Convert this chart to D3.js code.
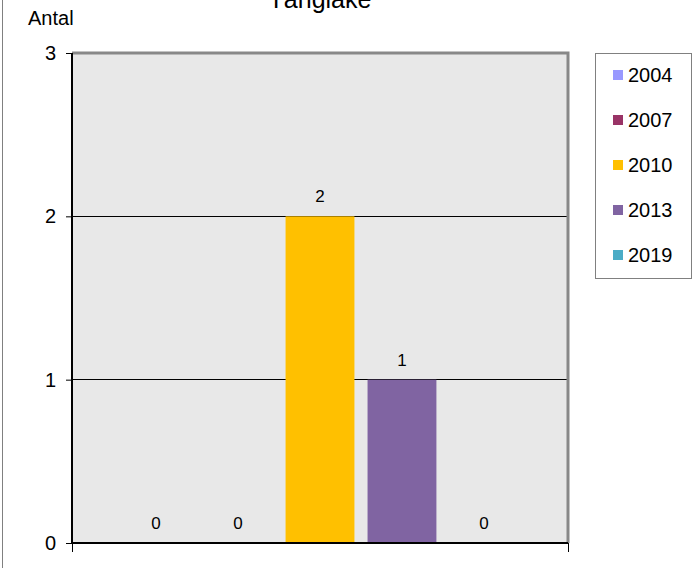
<!DOCTYPE html>
<html><head><meta charset="utf-8">
<script src="https://cdn.jsdelivr.net/npm/d3@7"></script>
<style>
body{margin:0;background:#fff;}
svg{display:block;font-family:"Liberation Sans",Arial,sans-serif;}
</style></head>
<body><svg id="c" width="697" height="568"></svg>
<script>
const title = "Tånglake";
const yLabel = "Antal";
const categories = [""];
const seriesNames = ["2004","2007","2010","2013","2019"];
const seriesValues = [0,0,2,1,0];
const seriesColors = ["#9999FF","#993366","#FFC000","#8064A2","#4BACC6"];
const yTicks = [0,1,2,3];

const svg = d3.select("#c");
const L=72,R=568,T=53,B=543;

// outer chart border
svg.append("rect").attr("x",2.5).attr("y",-10).attr("width",720).attr("height",600)
  .attr("fill","none").attr("stroke","#808080").attr("stroke-width",1);

const y = d3.scaleLinear().domain([0,3]).range([B,T]);
const x0 = d3.scaleBand().domain(categories).range([L,R]);
const x1 = d3.scaleBand().domain(seriesNames).range([0,x0.bandwidth()])
  .paddingInner(0.16).paddingOuter(0.605);

// plot background
svg.append("rect").attr("x",L).attr("y",T).attr("width",R-L).attr("height",B-T).attr("fill","#E8E8E8");

// gridlines
svg.append("g").selectAll("line").data(yTicks.filter(d=>d>0&&d<3)).join("line")
  .attr("x1",L).attr("x2",R).attr("y1",d=>y(d)).attr("y2",d=>y(d))
  .attr("stroke","#000").attr("stroke-width",1).attr("shape-rendering","crispEdges");

// bars
const g = svg.append("g").attr("transform",`translate(${x0("")},0)`);
g.selectAll("rect").data(seriesNames).join("rect")
  .attr("x",d=>x1(d)).attr("width",x1.bandwidth())
  .attr("y",(d,i)=>y(seriesValues[i])).attr("height",(d,i)=>B-y(seriesValues[i]))
  .attr("fill",(d,i)=>seriesColors[i]);
g.selectAll("text").data(seriesNames).join("text")
  .attr("x",d=>x1(d)+x1.bandwidth()/2)
  .attr("y",(d,i)=>y(seriesValues[i])-14)
  .attr("text-anchor","middle").attr("font-size",17).attr("fill","#000")
  .text((d,i)=>seriesValues[i]);

// plot frame top/right gray
svg.append("path").attr("d",`M${L},${T}H${R}V${B}`).attr("fill","none")
  .attr("stroke","#888").attr("stroke-width",3);

// y axis
const ya = svg.append("g").attr("transform",`translate(${L},0)`)
  .call(d3.axisLeft(y).tickValues(yTicks).tickSize(6).tickPadding(10).tickFormat(d3.format("d")));
ya.select(".domain").remove();
ya.selectAll("line").attr("stroke","#000");
ya.selectAll("text").attr("font-size",20).attr("font-family","Liberation Sans, Arial, sans-serif").attr("fill","#000");
svg.append("line").attr("x1",L).attr("x2",L).attr("y1",T).attr("y2",B+1)
  .attr("stroke","#000").attr("stroke-width",2);

// x axis
const xa = svg.append("g").attr("transform",`translate(0,${B})`)
  .call(d3.axisBottom(d3.scaleLinear().domain([0,1]).range([L,R])).tickValues([0,1]).tickSize(9).tickFormat(""));
xa.select(".domain").remove();
xa.selectAll("line").attr("stroke","#000");
svg.append("line").attr("x1",L).attr("x2",R).attr("y1",B).attr("y2",B)
  .attr("stroke","#000").attr("stroke-width",2);

// titles
svg.append("text").attr("x",(L+R)/2).attr("y",8).attr("text-anchor","middle")
  .attr("font-size",25).text(title);
svg.append("text").attr("x",28).attr("y",25).attr("font-size",20).text(yLabel);

// legend
const lg = svg.append("g");
lg.append("rect").attr("x",595.5).attr("y",53.5).attr("width",96).attr("height",225)
  .attr("fill","#fff").attr("stroke","#808080");
const items = lg.selectAll("g").data(seriesNames).join("g")
  .attr("transform",(d,i)=>`translate(613,${75+i*45})`);
items.append("rect").attr("x",0).attr("y",-5).attr("width",10).attr("height",10)
  .attr("fill",(d,i)=>seriesColors[i]);
items.append("text").attr("x",15).attr("y",7).attr("font-size",20).text(d=>d);
</script></body></html>
